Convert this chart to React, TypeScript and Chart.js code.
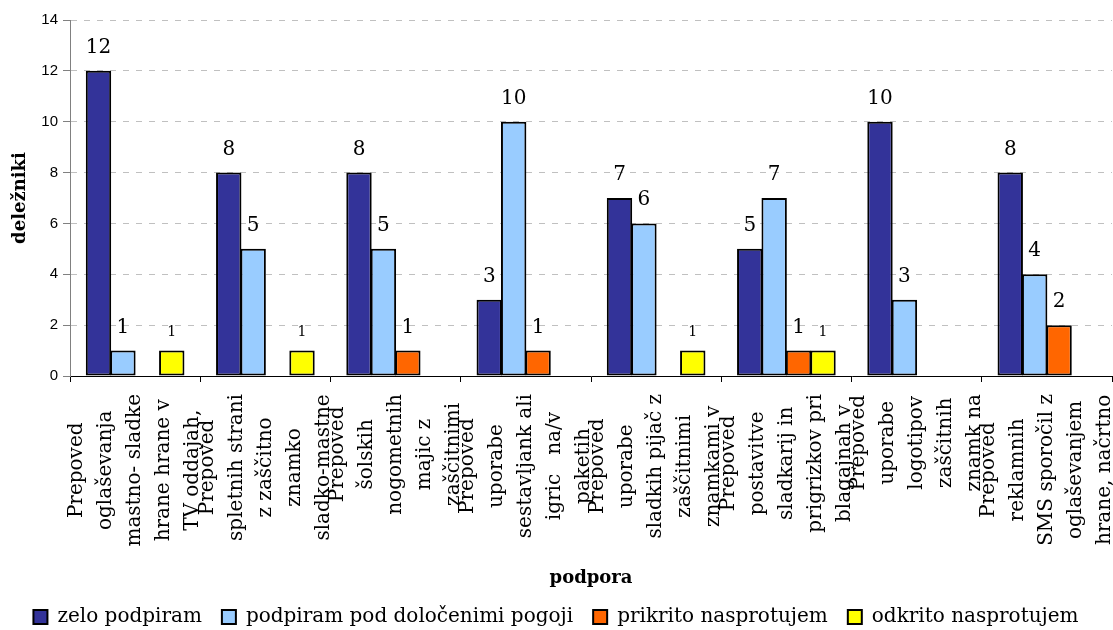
import React, { useEffect, useRef } from 'react';
import { Chart, registerables } from 'chart.js';

Chart.register(...registerables);

// Category labels, one entry per wrapped line
const categories: string[][] = [
  ['Prepoved', 'oglaševanja', 'mastno- sladke', 'hrane hrane v', 'TV oddajah,'],
  ['Prepoved', 'spletnih strani', 'z zaščitno', 'znamko', 'sladko-mastne'],
  ['Prepoved', 'šolskih', 'nogometnih', 'majic z', 'zaščitnimi'],
  ['Prepoved', 'uporabe', 'sestavljank ali', 'igric   na/v', 'paketih'],
  ['Prepoved', 'uporabe', 'sladkih pijač z', 'zaščitnimi', 'znamkami v'],
  ['Prepoved', 'postavitve', 'sladkarij in', 'prigrizkov pri', 'blagajnah v'],
  ['Prepoved', 'uporabe', 'logotipov', 'zaščitnih', 'znamk na'],
  ['Prepoved', 'reklamnih', 'SMS sporočil z', 'oglaševanjem', 'hrane, načrtno'],
];

const seriesNames = [
  'zelo podpiram',
  'podpiram pod določenimi pogoji',
  'prikrito nasprotujem',
  'odkrito nasprotujem',
];

const zeloPodpiram = [12, 8, 8, 3, 7, 5, 10, 8];
const podpiramPodPogoji = [1, 5, 5, 10, 6, 7, 3, 4];
const prikritoNasprotujem = [0, 0, 1, 1, 0, 1, 0, 2];
const odkritoNasprotujem = [1, 1, 0, 0, 1, 1, 0, 0];

const yTickValues = [0, 2, 4, 6, 8, 10, 12, 14];

const seriesColors = ['#333399', '#99CCFF', '#FF6600', '#FFFF00'];
const valueFontSizes = [20, 20, 20, 14];

const SERIF = '"DejaVu Serif", serif';

// Value labels above each non-zero bar
const valueLabels = {
  id: 'valueLabels',
  afterDatasetsDraw(chart: any) {
    const ctx = chart.ctx;
    chart.data.datasets.forEach((ds: any, di: number) => {
      const meta = chart.getDatasetMeta(di);
      const size = valueFontSizes[di];
      ctx.save();
      ctx.font = `${size}px ${SERIF}`;
      ctx.fillStyle = '#000';
      ctx.textAlign = 'center';
      ctx.textBaseline = 'alphabetic';
      meta.data.forEach((bar: any, i: number) => {
        const v = ds.data[i];
        if (!v) return;
        ctx.fillText(String(v), bar.x, bar.y - (size > 16 ? 18 : 15));
      });
      ctx.restore();
    });
  },
};

// Wrapped, vertical category labels under the x axis
const categoryLabels = {
  id: 'categoryLabels',
  afterDraw(chart: any) {
    const xScale = chart.scales.x;
    const ctx = chart.ctx;
    const lineStep = 29;
    ctx.save();
    ctx.font = `20px ${SERIF}`;
    ctx.fillStyle = '#000';
    ctx.textAlign = 'center';
    ctx.textBaseline = 'middle';
    categories.forEach((lines, i) => {
      const cx = xScale.getPixelForValue(i);
      const maxW = Math.max(...lines.map((l) => ctx.measureText(l).width));
      const cy = chart.chartArea.bottom + 18 + maxW / 2;
      lines.forEach((line, j) => {
        const lx = cx + (j - (lines.length - 1) / 2) * lineStep;
        ctx.save();
        ctx.translate(lx, cy);
        ctx.rotate(-Math.PI / 2);
        ctx.fillText(line, 0, 0);
        ctx.restore();
      });
    });
    ctx.restore();
  },
};

export default function App() {
  const canvasRef = useRef<HTMLCanvasElement | null>(null);

  useEffect(() => {
    const canvas = canvasRef.current;
    if (!canvas) return;
    const values = [zeloPodpiram, podpiramPodPogoji, prikritoNasprotujem, odkritoNasprotujem];

    const chart = new Chart(canvas, {
      type: 'bar',
      data: {
        labels: categories.map((l) => l.join(' ')),
        datasets: seriesNames.map((name, i) => ({
          label: name,
          data: values[i],
          backgroundColor: seriesColors[i],
          borderColor: '#000',
          borderWidth: 2,
          borderSkipped: false,
          categoryPercentage: 0.75,
          barPercentage: 1.04,
        })),
      },
      options: {
        responsive: true,
        maintainAspectRatio: false,
        animation: false,
        layout: { padding: { top: 20, right: 1, bottom: -7, left: 0 } },
        plugins: {
          legend: {
            position: 'bottom',
            labels: {
              boxWidth: 14,
              boxHeight: 14,
              padding: 20,
              color: '#000',
              font: { family: SERIF, size: 20 },
            },
          },
          tooltip: { enabled: false },
        },
        scales: {
          x: {
            grid: {
              drawOnChartArea: false,
              drawTicks: true,
              tickLength: 6,
              color: '#000',
              tickColor: '#000',
            },
            border: { color: '#000', width: 1 },
            ticks: { display: false },
            title: {
              display: true,
              text: 'podpora',
              color: '#000',
              font: { family: SERIF, size: 18, weight: 'bold' },
              padding: { top: 0, bottom: -2 },
            },
            afterFit: (s: any) => {
              s.height = 211;
            },
          },
          y: {
            min: 0,
            max: 14,
            afterBuildTicks: (s: any) => {
              s.ticks = yTickValues.map((v) => ({ value: v }));
            },
            ticks: {
              color: '#000',
              padding: 5,
              font: { family: '"Liberation Sans", Arial, sans-serif', size: 15 },
            },
            grid: {
              color: (c: any) => (c.tick && c.tick.value === 0 ? 'rgba(0,0,0,0)' : '#c0c0c0'),
              tickColor: '#808080',
              tickLength: 7,
            },
            border: { color: '#808080', width: 1, dash: [6, 7] },
            title: {
              display: true,
              text: 'deležniki',
              color: '#000',
              font: { family: SERIF, size: 18, weight: 'bold' },
              padding: { top: 10, bottom: 0 },
            },
            afterFit: (s: any) => {
              s.width = 70;
            },
          },
        },
      },
      plugins: [valueLabels, categoryLabels],
    } as any);

    return () => chart.destroy();
  }, []);

  return (
    <div style={{ position: 'fixed', left: 0, top: 0, width: 1113, height: 630, background: '#fff' }}>
      <canvas ref={canvasRef} />
    </div>
  );
}
